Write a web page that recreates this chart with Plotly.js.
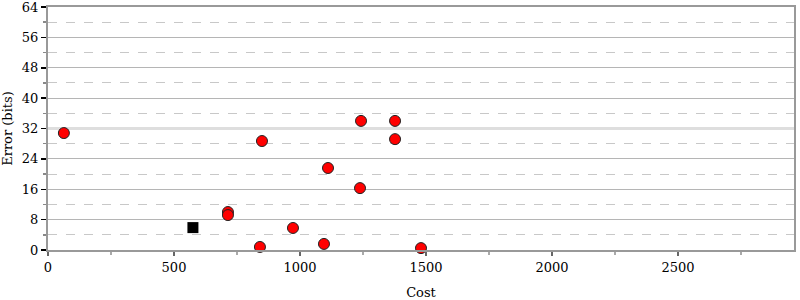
<!DOCTYPE html>
<html>
<head>
<meta charset="utf-8">
<script src="https://cdn.plot.ly/plotly-3.0.1.min.js"></script>
<style>html,body{margin:0;padding:0;background:#fff;}#chart{width:800px;height:300px;}</style>
</head>
<body>
<div id="chart"></div>
<script>
// Data
const costs = [63, 849, 714, 714, 972, 841, 1095, 1111, 1242, 1238, 1377, 1377, 1480];
const errors = [30.8, 28.7, 10.0, 9.2, 5.8, 0.8, 1.6, 21.6, 34.0, 16.3, 34.0, 29.2, 0.5];
const bestCost = [575];
const bestError = [5.9];
const xTicks = [0, 500, 1000, 1500, 2000, 2500];
const xRange = [0, 2960];
const highlightY = 32;

const font = {family: 'DejaVu Serif', size: 13, color: '#000'};

const traces = [
  {
    x: xRange, y: [highlightY, highlightY], type: 'scatter', mode: 'lines',
    line: {color: '#dedede', width: 3}, hoverinfo: 'skip'
  },
  {
    x: costs, y: errors, type: 'scatter', mode: 'markers',
    marker: {symbol: 'circle', size: 11, color: '#ff0000', line: {color: '#222', width: 1}},
    cliponaxis: false, hoverinfo: 'skip'
  },
  {
    x: bestCost, y: bestError, type: 'scatter', mode: 'markers',
    marker: {symbol: 'square', size: 11, color: '#000', line: {color: '#000', width: 0}},
    cliponaxis: false, hoverinfo: 'skip'
  }
];

const layout = {
  width: 800, height: 300,
  margin: {l: 48, r: 6, t: 7, b: 50},
  paper_bgcolor: '#fff', plot_bgcolor: '#fff',
  showlegend: false,
  font: font,
  xaxis: {
    range: xRange, tickvals: xTicks, ticktext: xTicks.map(String),
    showgrid: false, zeroline: false,
    showline: true, linecolor: '#999', linewidth: 2, mirror: true,
    ticks: 'outside', ticklen: 4, tickwidth: 1.5, tickcolor: '#666',
    minor: {dtick: 250, ticks: 'outside', ticklen: 3, tickcolor: '#aaa', showgrid: false},
    tickfont: font, ticklabeloverflow: 'allow',
    title: {text: 'Cost', font: font, standoff: 14},
    automargin: false
  },
  yaxis: {
    range: [0, 64], dtick: 8, tick0: 0,
    showgrid: true, gridcolor: '#b5b5b5', gridwidth: 1,
    zeroline: false,
    showline: true, linecolor: '#999', linewidth: 2, mirror: true,
    ticks: 'outside', ticklen: 5, tickwidth: 1.5, tickcolor: '#000',
    minor: {dtick: 4, ticks: 'outside', ticklen: 3, tickcolor: '#888', showgrid: true, gridcolor: '#c8c8c8', griddash: 'dash', gridwidth: 1},
    tickfont: font, ticklabeloverflow: 'allow',
    title: {text: 'Error (bits)', font: font, standoff: 6},
    automargin: false
  }
};

Plotly.newPlot('chart', traces, layout, {staticPlot: true, displayModeBar: false});
</script>
</body>
</html>
